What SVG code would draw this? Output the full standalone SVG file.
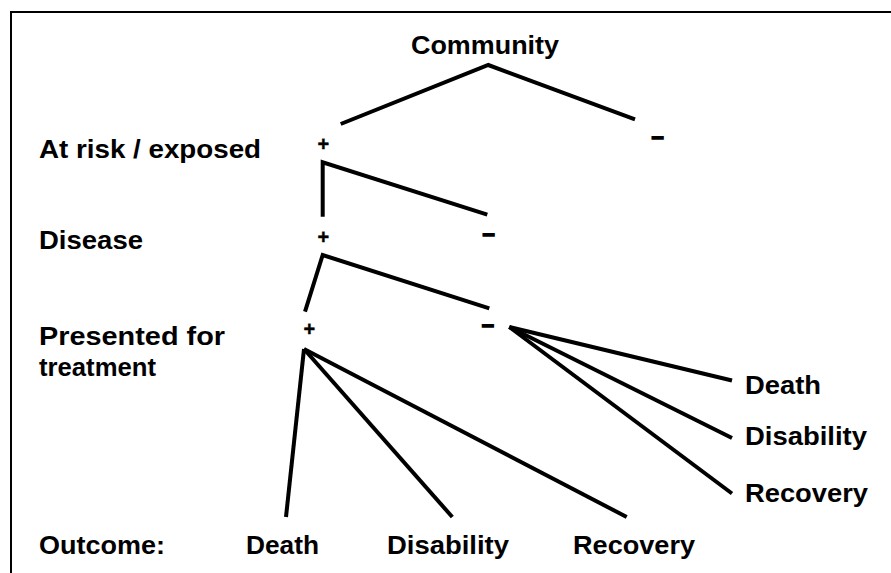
<svg xmlns="http://www.w3.org/2000/svg" width="891" height="573" viewBox="0 0 891 573">
<style>
  .lbl { font-family: "Liberation Sans", Arial, Helvetica, sans-serif; font-weight: bold; font-size: 26px; fill: #000; }
  .sign { font-family: "Liberation Sans", Arial, Helvetica, sans-serif; font-weight: bold; fill: #000; text-anchor: middle; }
  .plus { font-size: 20px; stroke: #000; stroke-width: 0.4; }
  .minus { font-size: 22px; stroke: #000; stroke-width: 1.4; }
  .edge { fill: none; stroke: #000; stroke-width: 4; stroke-linecap: butt; stroke-linejoin: miter; }
</style>
<rect x="0" y="0" width="891" height="573" fill="#fff"/>
<rect id="frame" x="11" y="12" width="900" height="600" fill="none" stroke="#000" stroke-width="2"/>

<g id="connectors">
  <polyline class="edge" points="340.7,124 488.3,65 635,119.3"/>
  <polyline class="edge" points="322.7,216.7 322.7,162.3 487.3,214.7"/>
  <polyline class="edge" points="305,311.7 322.7,255 489.3,308.3"/>
  <line class="edge" x1="304" y1="349" x2="286" y2="517"/>
  <line class="edge" x1="304" y1="349" x2="452.3" y2="517"/>
  <line class="edge" x1="304" y1="349" x2="626.7" y2="517"/>
  <line class="edge" x1="509.3" y1="327" x2="732" y2="380.5"/>
  <line class="edge" x1="509.3" y1="327" x2="732" y2="438"/>
  <line class="edge" x1="509.3" y1="327" x2="732" y2="493.5"/>
</g>

<g id="community"><text class="lbl" x="411" y="54" textLength="148" lengthAdjust="spacingAndGlyphs">Community</text></g>
<g id="level-at-risk"><text class="lbl" x="39" y="158" textLength="222" lengthAdjust="spacingAndGlyphs">At risk / exposed</text></g>
<g id="level-disease"><text class="lbl" x="39" y="249" textLength="104" lengthAdjust="spacingAndGlyphs">Disease</text></g>
<g id="level-presented">
  <text class="lbl" x="39" y="345" textLength="186" lengthAdjust="spacingAndGlyphs">Presented for</text>
  <text class="lbl" x="39" y="376" textLength="117" lengthAdjust="spacingAndGlyphs">treatment</text>
</g>
<g id="level-outcome"><text class="lbl" x="39" y="554" textLength="126" lengthAdjust="spacingAndGlyphs">Outcome:</text></g>

<g id="signs">
  <text class="sign plus" x="323.3" y="151">+</text>
  <text class="sign minus" x="657.5" y="144">–</text>
  <text class="sign plus" x="323.3" y="244">+</text>
  <text class="sign minus" x="488.5" y="240.5">–</text>
  <text class="sign plus" x="309.3" y="336">+</text>
  <text class="sign minus" x="487.8" y="331.5">–</text>
</g>

<g id="outcome-plus-death"><text class="lbl" x="246" y="554" textLength="73" lengthAdjust="spacingAndGlyphs">Death</text></g>
<g id="outcome-plus-disability"><text class="lbl" x="387" y="554" textLength="122" lengthAdjust="spacingAndGlyphs">Disability</text></g>
<g id="outcome-plus-recovery"><text class="lbl" x="573" y="554" textLength="122" lengthAdjust="spacingAndGlyphs">Recovery</text></g>

<g id="outcome-minus-death"><text class="lbl" x="745" y="394" textLength="76" lengthAdjust="spacingAndGlyphs">Death</text></g>
<g id="outcome-minus-disability"><text class="lbl" x="745" y="445" textLength="122" lengthAdjust="spacingAndGlyphs">Disability</text></g>
<g id="outcome-minus-recovery"><text class="lbl" x="745" y="502" textLength="123" lengthAdjust="spacingAndGlyphs">Recovery</text></g>
</svg>
